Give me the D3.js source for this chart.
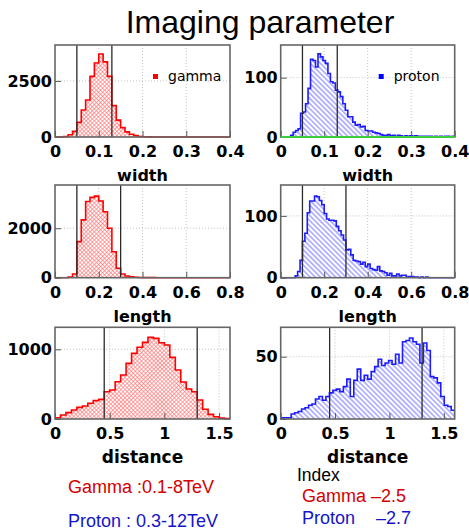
<!DOCTYPE html>
<html lang="en">
<head>
<meta charset="UTF-8">
<title>Imaging parameter</title>
<style>
  body { margin: 0; background: #fff; }
  svg { display: block; }
</style>
</head>
<body>
<div id="chart"></div>
<script src="https://d3js.org/d3.v7.min.js"></script>
<script>
  // histogram counts, bins start at 0
  const gammaWidth = [0, 0, 20, 100, 250, 650, 1200, 1650, 2700, 3300, 3700, 3350, 2700, 1400, 750, 420, 230, 120, 60, 25,
    10, 5, 3, 2, 1, 0, 0, 0, 0, 0, 0, 0, 0, 0, 0, 0, 0, 0, 0, 0];
  const protonWidth = [0, 0, 0, 0, 3, 8, 11, 14, 40, 42, 56, 82, 131, 129, 118, 140, 135, 129, 124, 107,
    93, 91, 79, 76, 68, 56, 45, 34, 34, 25, 20, 21, 17, 18, 11, 10, 10, 8, 7, 6,
    4, 3, 3, 4, 2, 3, 1, 3, 2, 0, 2, 1, 2, 1, 2, 1, 1, 1, 1, 1,
    1, 0, 1, 0, 1, 0, 1, 1, 0, 1];
  const gammaLength = [0, 0, 0, 30, 150, 1460, 2340, 3080, 3250, 3300, 3100, 2670, 2000, 1050, 380, 150, 70, 40, 20, 10,
    5, 3, 2, 1, 1, 0, 0, 0, 0, 0, 0, 0, 0, 0, 0, 0, 0, 0, 0, 0];
  const protonLength = [0, 0, 0, 0, 0, 0, 3, 10, 28, 59, 72, 105, 124, 124, 132, 131, 125, 118, 104, 95,
    93, 93, 92, 83, 76, 69, 61, 45, 46, 37, 28, 27, 26, 22, 25, 18, 22, 15, 13, 12,
    18, 11, 10, 8, 4, 7, 3, 3, 6, 3, 4, 4, 1, 2, 2, 1, 1, 0, 1, 0,
    1, 0, 0, 0, 0, 0, 0, 0, 0, 0, 0, 0];
  const gammaDistance = [19, 57, 91, 129, 167, 186, 225, 263, 282, 392, 416, 535, 631, 798, 942, 1030, 1100, 1171, 1157, 1095,
    1061, 884, 703, 530, 430, 392, 272, 139, 67, 33, 12, 5];
  const protonDistance = [1, 1, 1, 4, 5, 6, 8, 9, 11, 12, 16, 18, 15, 18, 21, 23, 24, 22, 26, 32,
    18, 31, 40, 31, 35, 32, 38, 42, 48, 43, 45, 47, 44, 52, 45, 62, 63, 65, 62, 60,
    45, 61, 55, 34, 33, 29, 18, 11, 10, 7];

  const gammaWidthBin = 0.01, protonWidthBin = 0.4 / 70;
  const gammaLengthBin = 0.02, protonLengthBin = 0.8 / 72;
  const gammaDistanceBin = 0.05, protonDistanceBin = 0.032;

  // cut values (vertical lines)
  const widthCuts = [0.05, 0.13];
  const lengthCuts = [0.1, 0.3];
  const distanceCuts = [0.45, 1.3];

  // axes
  const widthTicks = [0, 0.1, 0.2, 0.3, 0.4];
  const widthLabels = ["0", "0.1", "0.2", "0.3", "0.4"];
  const lengthTicks = [0, 0.2, 0.4, 0.6, 0.8];
  const lengthLabels = ["0", "0.2", "0.4", "0.6", "0.8"];
  const distanceTicks = [0, 0.5, 1, 1.5];
  const distanceLabels = ["0", "0.5", "1", "1.5"];
  const gammaWidthYTicks = [0, 2500], protonWidthYTicks = [0, 100];
  const gammaLengthYTicks = [0, 2000], protonLengthYTicks = [0, 100];
  const gammaDistanceYTicks = [0, 1000], protonDistanceYTicks = [0, 50];

  const width = 469, height = 529;
  const colX = [[55, 230], [280.7, 454.7]];
  const rowY = [[45, 137], [185, 277.7], [327.3, 419]];

  const styles = {
    gamma: { stroke: "#ff0000", fill: "url(#hatchCross)", marker: "#ff0000" },
    proton: { stroke: "#1c1cff", fill: "url(#hatchDiag)", marker: "#0000ff" }
  };

  const panels = [
    { counts: gammaWidth, bin: gammaWidthBin, kind: "gamma", col: 0, row: 0, xDomain: [0, 0.4], xTicks: widthTicks, xLabels: widthLabels,
      yMax: 4100, yTicks: gammaWidthYTicks, cuts: widthCuts, title: "width", legend: "gamma" },
    { counts: protonWidth, bin: protonWidthBin, kind: "proton", col: 1, row: 0, xDomain: [0, 0.4], xTicks: widthTicks, xLabels: widthLabels,
      yMax: 155, yTicks: protonWidthYTicks, cuts: widthCuts, title: "width", legend: "proton", greenBase: true },
    { counts: gammaLength, bin: gammaLengthBin, kind: "gamma", col: 0, row: 1, xDomain: [0, 0.8], xTicks: lengthTicks, xLabels: lengthLabels,
      yMax: 3750, yTicks: gammaLengthYTicks, cuts: lengthCuts, title: "length" },
    { counts: protonLength, bin: protonLengthBin, kind: "proton", col: 1, row: 1, xDomain: [0, 0.8], xTicks: lengthTicks, xLabels: lengthLabels,
      yMax: 150, yTicks: protonLengthYTicks, cuts: lengthCuts, title: "length" },
    { counts: gammaDistance, bin: gammaDistanceBin, kind: "gamma", col: 0, row: 2, xDomain: [0, 1.6], xTicks: distanceTicks, xLabels: distanceLabels,
      yMax: 1316, yTicks: gammaDistanceYTicks, cuts: distanceCuts, title: "distance", titleSize: 17 },
    { counts: protonDistance, bin: protonDistanceBin, kind: "proton", col: 1, row: 2, xDomain: [0, 1.6], xTicks: distanceTicks, xLabels: distanceLabels,
      yMax: 73.6, yTicks: protonDistanceYTicks, cuts: distanceCuts, title: "distance", titleSize: 17 }
  ];

  const svg = d3.select("#chart").append("svg")
    .attr("width", width)
    .attr("height", height);

  const defs = svg.append("defs");
  const cross = defs.append("pattern")
    .attr("id", "hatchCross")
    .attr("patternUnits", "userSpaceOnUse")
    .attr("width", 2.9).attr("height", 2.9)
    .attr("patternTransform", "rotate(45)");
  cross.append("rect").attr("width", 2.9).attr("height", 2.9).attr("fill", "#fff");
  cross.append("line").attr("x1", 1.45).attr("x2", 1.45).attr("y1", 0).attr("y2", 2.9)
    .attr("stroke", "#ff7272").attr("stroke-width", 0.65);
  cross.append("line").attr("y1", 1.45).attr("y2", 1.45).attr("x1", 0).attr("x2", 2.9)
    .attr("stroke", "#ff7272").attr("stroke-width", 0.65);

  const diag = defs.append("pattern")
    .attr("id", "hatchDiag")
    .attr("patternUnits", "userSpaceOnUse")
    .attr("width", 3.6).attr("height", 3.6)
    .attr("patternTransform", "rotate(-45)");
  diag.append("rect").attr("width", 3.6).attr("height", 3.6).attr("fill", "#fff");
  diag.append("line").attr("x1", 1.8).attr("x2", 1.8).attr("y1", 0).attr("y2", 3.6)
    .attr("stroke", "#6464ff").attr("stroke-width", 0.9);

  // title
  svg.append("text")
    .attr("x", 260).attr("y", 33)
    .attr("text-anchor", "middle")
    .attr("font-family", "'Liberation Sans', Arial, sans-serif")
    .attr("font-size", 32)
    .text("Imaging parameter");

  function stepPoints(counts, bin) {
    const pts = [[0, 0]];
    counts.forEach((c, i) => {
      pts.push([i * bin, c]);
      pts.push([(i + 1) * bin, c]);
    });
    pts.push([counts.length * bin, 0]);
    return pts;
  }

  function drawPanel(p, idx) {
    const [x0, x1] = colX[p.col];
    const [y0, y1] = rowY[p.row];
    const x = d3.scaleLinear().domain(p.xDomain).range([x0, x1]);
    const y = d3.scaleLinear().domain([0, p.yMax]).range([y1, y0]);
    const st = styles[p.kind];
    const g = svg.append("g");

    g.append("clipPath").attr("id", "clip" + idx)
      .append("rect").attr("x", x0).attr("y", y0).attr("width", x1 - x0).attr("height", y1 - y0 + 1);

    // grid
    g.selectAll(".vgrid")
      .data(p.xTicks.filter(t => t > p.xDomain[0] && t < p.xDomain[1]))
      .enter().append("line")
      .attr("x1", d => x(d)).attr("x2", d => x(d))
      .attr("y1", y0).attr("y2", y1)
      .attr("stroke", "#b5b5b5").attr("stroke-width", 0.8).attr("stroke-dasharray", "1,2");
    g.selectAll(".hgrid")
      .data(p.yTicks.filter(t => t > 0))
      .enter().append("line")
      .attr("x1", x0).attr("x2", x1)
      .attr("y1", d => y(d)).attr("y2", d => y(d))
      .attr("stroke", "#b5b5b5").attr("stroke-width", 0.8).attr("stroke-dasharray", "1,2");

    const pts = stepPoints(p.counts, p.bin);
    const hist = g.append("g").attr("clip-path", `url(#clip${idx})`);
    hist.append("path")
      .datum(pts)
      .attr("d", d3.area().x(d => x(d[0])).y0(y(0)).y1(d => y(d[1])))
      .attr("fill", st.fill);
    hist.append("path")
      .datum(pts)
      .attr("d", d3.line().x(d => x(d[0])).y(d => y(d[1])))
      .attr("fill", "none")
      .attr("stroke", st.stroke)
      .attr("stroke-width", 1.6);

    // cut lines
    g.selectAll(".cut")
      .data(p.cuts)
      .enter().append("line")
      .attr("x1", d => x(d)).attr("x2", d => x(d))
      .attr("y1", y0).attr("y2", y1)
      .attr("stroke", "#2a2a2a").attr("stroke-width", 1.3);

    // axes
    const xAxis = g.append("g")
      .attr("transform", `translate(0,${y1})`)
      .call(d3.axisBottom(x).tickValues(p.xTicks).tickFormat((d, i) => p.xLabels[i])
        .tickSizeInner(-6).tickSizeOuter(0).tickPadding(9));
    const yAxis = g.append("g")
      .attr("transform", `translate(${x0},0)`)
      .call(d3.axisLeft(y).tickValues(p.yTicks).tickFormat(d3.format("d"))
        .tickSizeInner(-6).tickSizeOuter(0).tickPadding(3));
    [xAxis, yAxis].forEach(a => {
      a.select(".domain").remove();
      a.selectAll("line").attr("stroke", "#555");
      a.attr("font-family", "'DejaVu Sans', sans-serif")
        .attr("font-size", 16)
        .attr("font-weight", "bold");
    });

    // frame
    g.append("rect")
      .attr("x", x0).attr("y", y0)
      .attr("width", x1 - x0).attr("height", y1 - y0)
      .attr("fill", "none")
      .attr("stroke", "#666")
      .attr("stroke-width", 1.6);

    // second (flat) histogram sitting on the baseline
    if (p.greenBase) {
      g.append("line")
        .attr("x1", x(p.xDomain[0])).attr("x2", x(p.xDomain[1]))
        .attr("y1", y(0)).attr("y2", y(0))
        .attr("stroke", "#3ccc3c").attr("stroke-width", 2);
    }

    // axis title
    g.append("text")
      .attr("x", (x0 + x1) / 2).attr("y", y1 + 44)
      .attr("text-anchor", "middle")
      .attr("font-family", "'DejaVu Sans', sans-serif")
      .attr("font-weight", "bold")
      .attr("font-size", p.titleSize || 16)
      .text(p.title);

    // legend
    if (p.legend) {
      g.append("rect")
        .attr("x", x0 + 98).attr("y", y0 + 29)
        .attr("width", 5).attr("height", 5)
        .attr("fill", st.marker);
      g.append("text")
        .attr("x", x0 + 113).attr("y", y0 + 36)
        .attr("font-family", "'DejaVu Sans', sans-serif")
        .attr("font-size", 14)
        .text(p.legend);
    }
  }

  panels.forEach(drawPanel);

  // notes under the plots
  const notes = [
    { text: "Gamma :0.1-8TeV", x: 68, y: 493, color: "#d40000", size: 18 },
    { text: "Proton : 0.3-12TeV", x: 68, y: 526.5, color: "#1414c8", size: 18 },
    { text: "Index", x: 297, y: 480.5, color: "#000", size: 17.5 },
    { text: "Gamma \u20132.5", x: 302, y: 501.5, color: "#d40000", size: 18 },
    { text: "Proton", x: 302, y: 524, color: "#1414c8", size: 18 },
    { text: "\u20132.7", x: 376, y: 524, color: "#1414c8", size: 18 }
  ];
  svg.selectAll(".note")
    .data(notes)
    .enter().append("text")
    .attr("x", d => d.x).attr("y", d => d.y)
    .attr("fill", d => d.color)
    .attr("font-family", "'Liberation Sans', Arial, sans-serif")
    .attr("font-size", d => d.size)
    .text(d => d.text);
</script>
</body>
</html>
